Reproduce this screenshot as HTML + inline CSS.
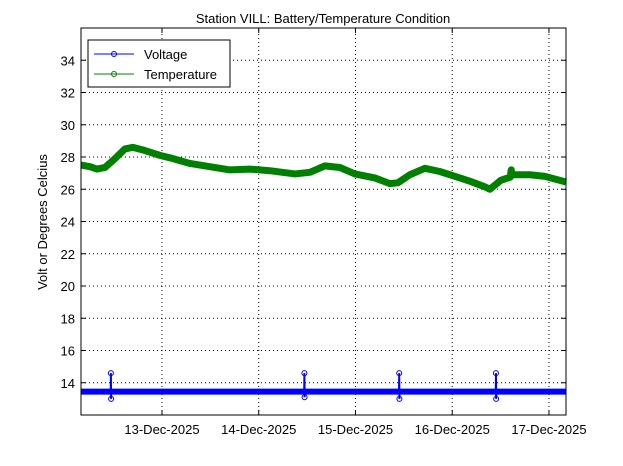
<!DOCTYPE html>
<html><head><meta charset="utf-8"><style>
body{margin:0;background:#fff;}
svg{display:block;font-family:"Liberation Sans",sans-serif;}
</style></head><body>
<svg id="chart" width="623" height="466">
<rect width="623" height="466" fill="#fff"/>
<text x="323" y="23" font-size="13" text-anchor="middle">Station VILL: Battery/Temperature Condition</text>
<g id="grid"></g>
<g id="series"></g>
<rect x="81" y="28" width="485" height="387" fill="none" stroke="#000"/>
<g id="ticks"></g>
<text transform="translate(47,222) rotate(-90)" font-size="13" text-anchor="middle">Volt or Degrees Celcius</text>
<g>
<rect x="88" y="40" width="142" height="47" fill="#fff" stroke="#000"/>
<g>
<line x1="94" y1="54" x2="134" y2="54" stroke="#0000ff"/><circle cx="114" cy="54" r="2.5" fill="none" stroke="#0000ff"/>
<text x="144" y="59" font-size="13">Voltage</text></g>
<g>
<line x1="94" y1="74" x2="134" y2="74" stroke="#008000"/><circle cx="114" cy="74" r="2.5" fill="none" stroke="#008000"/>
<text x="144" y="79" font-size="13">Temperature</text></g>
</g>
</svg>
<script>
const yTicks=[14,16,18,20,22,24,26,28,30,32,34];
const xTickDays=[13,14,15,16,17];
const xTickLabels=["13-Dec-2025","14-Dec-2025","15-Dec-2025","16-Dec-2025","17-Dec-2025"];
const tempDays=[12.163,12.256,12.328,12.411,12.514,12.617,12.7,12.824,12.979,13.082,13.289,13.495,13.702,13.909,14.115,14.374,14.529,14.684,14.839,14.994,15.2,15.355,15.438,15.562,15.717,15.872,16.027,16.182,16.337,16.389,16.45,16.5,16.6,16.61,16.615,16.62,16.648,16.804,16.959,17.176];
const tempValues=[27.5,27.4,27.25,27.35,27.9,28.5,28.6,28.4,28.1,27.95,27.6,27.4,27.2,27.25,27.15,26.95,27.05,27.45,27.35,26.95,26.7,26.35,26.4,26.9,27.3,27.1,26.8,26.5,26.15,26.0,26.3,26.55,26.75,27.2,26.85,26.9,26.9,26.9,26.8,26.45];
const voltDays=[12.163,12.47,12.472,12.474,12.476,12.48,14.47,14.472,14.474,14.476,14.48,15.45,15.452,15.454,15.456,15.46,16.45,16.452,16.454,16.456,16.46,17.176];
const voltValues=[13.45,13.45,14.6,13.0,13.45,13.45,13.45,14.6,13.1,13.45,13.45,13.45,14.6,13.0,13.45,13.45,13.45,14.6,13.0,13.45,13.45,13.45];
const X0=81,X1=566,Y0=415,Y1=28,D0=12.163,D1=17.176,V0=12,V1=36;
const xs=d=>X0+(d-D0)/(D1-D0)*(X1-X0);
const ys=v=>Y0-(v-V0)/(V1-V0)*(Y0-Y1);
const NS="http://www.w3.org/2000/svg";
function mk(tag,attrs,parent){const e=document.createElementNS(NS,tag);for(const k in attrs)e.setAttribute(k,attrs[k]);parent.appendChild(e);return e;}
const grid=document.getElementById('grid'),ticks=document.getElementById('ticks'),series=document.getElementById('series');
yTicks.forEach(v=>{const y=ys(v);
 const g=mk('line',{x1:X0,x2:X1,y1:y,y2:y,stroke:'#000','stroke-dasharray':'1,3'},grid);
 
 
 mk('line',{x1:X0,x2:X0+5,y1:y,y2:y,stroke:'#000'},ticks);
 mk('line',{x1:X1,x2:X1-5,y1:y,y2:y,stroke:'#000'},ticks);
 const t=mk('text',{x:X0-6,y:y+5,'font-size':13,'text-anchor':'end'},ticks);t.textContent=v;
 
 });
xTickDays.forEach((d,i)=>{const x=xs(d);
 const g=mk('line',{x1:x,x2:x,y1:Y0,y2:Y1,stroke:'#000','stroke-dasharray':'1,3'},grid);
 
 
 mk('line',{x1:x,x2:x,y1:Y0,y2:Y0-5,stroke:'#000'},ticks);
 mk('line',{x1:x,x2:x,y1:Y1,y2:Y1+5,stroke:'#000'},ticks);
 const t=mk('text',{x:x,y:Y0+19,'font-size':13,'text-anchor':'middle'},ticks);t.textContent=xTickLabels[i];
 
 });
const tp=mk('polyline',{points:tempDays.map((d,i)=>xs(d)+','+ys(tempValues[i])).join(' '),fill:'none',stroke:'#008000','stroke-width':7,'stroke-linejoin':'round'},series);


const vp=mk('polyline',{points:voltDays.map((d,i)=>xs(d)+','+ys(voltValues[i])).join(' '),fill:'none',stroke:'#0000ff','stroke-width':2},series);


const vb=mk('line',{x1:xs(D0),x2:xs(voltDays[voltDays.length-1]),y1:ys(voltValues[0]),y2:ys(voltValues[0]),stroke:'#0000ff','stroke-width':6},series);


voltDays.forEach((d,i)=>{if(voltValues[i]!==voltValues[0]){const c=mk('circle',{cx:xs(d),cy:ys(voltValues[i]),r:2.5,fill:'none',stroke:'#0000ff'},series);
 
 }});
</script>
</body></html>
